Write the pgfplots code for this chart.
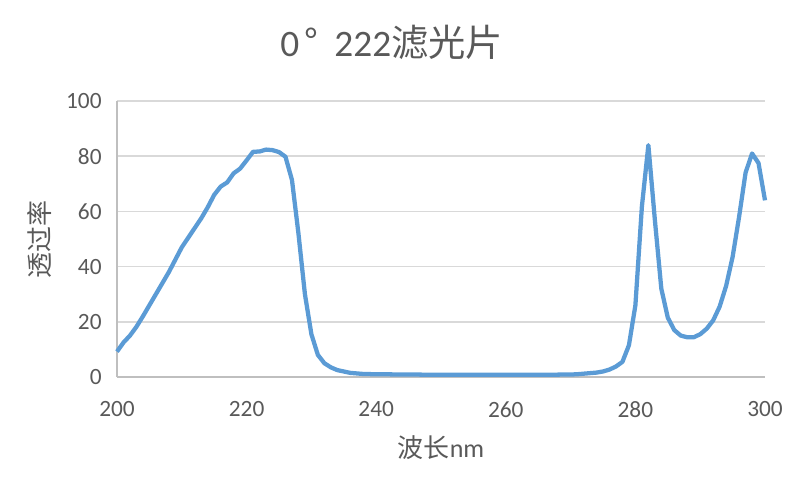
\documentclass[border=0pt]{standalone}
\usepackage{fontspec}
\usepackage{pgfplots}
\pgfplotsset{compat=1.18}
\setmainfont{Carlito}
\newfontfamily\cjk{Noto Sans CJK SC}
\definecolor{linec}{HTML}{5B9BD5}
\definecolor{gridc}{HTML}{D9D9D9}
\definecolor{axisc}{HTML}{BFBFBF}
\definecolor{txtc}{HTML}{595959}

\begin{document}
\begin{tikzpicture}
\begin{axis}[
    scale only axis,
    width=486pt, height=207pt,
    xmin=200, xmax=300,
    ymin=0, ymax=100,
    xtick={200,220,...,300},
    ytick={0,20,...,100},
    axis x line*=bottom,
    axis y line*=left,
    axis line style={color=axisc, line width=1.2pt},
    every outer x axis line/.append style={-},
    every outer y axis line/.append style={-},
    major tick length=0pt,
    ymajorgrids,
    grid style={color=gridc, line width=1.2pt},
    tick label style={font=\fontsize{17.5}{20}\selectfont, color=txtc},
    /pgf/number format/assume math mode=true,
    xticklabel style={yshift=-15pt},
    yticklabel style={xshift=-8pt},
    xlabel={{\cjk 波长}nm},
    ylabel={\cjk 透过率},
    label style={font=\fontsize{19.5}{22}\selectfont, color=txtc},
    xlabel style={at={(axis description cs:0.5,0)}, anchor=center, yshift=-53pt},
    ylabel style={at={(axis description cs:0,0.5)}, anchor=center, yshift=58pt},
    clip=false,
]
\addplot[color=linec, line width=3.2pt, line join=round] coordinates {
(200,9.2) (201,12.5) (202,15) (203,18.2) (204,22) (205,26) (206,30)
(207,34) (208,38) (209,42.5) (210,47) (211,50.5) (212,54) (213,57.5)
(214,61.5) (215,66) (216,69) (217,70.5) (218,73.8) (219,75.5) (220,78.5)
(221,81.6) (222,81.7) (223,82.4) (224,82.2) (225,81.5) (226,79.8)
(227,71.4) (228,52) (229,30) (230,15.5) (231,8) (232,5) (233,3.5)
(234,2.5) (235,2) (236,1.5) (237,1.3) (238,1.1) (240,1.0) (245,0.9)
(250,0.8) (255,0.8) (260,0.8) (265,0.8) (270,0.9) (271,1.0) (272,1.2)
(273,1.4) (274,1.6) (275,2.0) (276,2.7) (277,3.8) (278,5.5) (279,11.5)
(280,26) (281,61.7) (282,84) (283,57) (284,32) (285,21.5) (286,17)
(287,15) (288,14.4) (289,14.4) (290,15.5) (291,17.5) (292,20.5)
(293,25.5) (294,33) (295,43.5) (296,58) (297,74) (298,81) (299,77.5)
(300,64)
};
\node[font=\fontsize{28}{30}\selectfont, color=txtc, anchor=center]
  at ([yshift=44pt]axis description cs:0.424,1)
  {0\hspace{4pt}{\cjk °}\hspace{12pt}222{\cjk 滤光片}};
\end{axis}
\path[use as bounding box] (-87.75pt,-87.75pt) rectangle (509.25pt,282.75pt);
\end{tikzpicture}
\end{document}
